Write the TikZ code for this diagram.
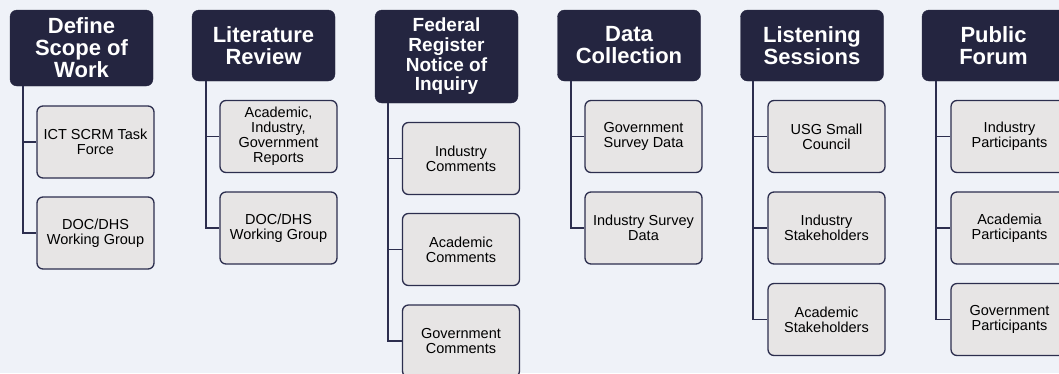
\documentclass[tikz,border=0pt]{standalone}
\usepackage{fontspec}
\setmainfont{Liberation Sans}
\usetikzlibrary{calc}
\definecolor{bgc}{RGB}{239,242,248}
\definecolor{navy}{RGB}{36,37,64}
\definecolor{childfill}{RGB}{231,229,229}
\definecolor{edgec}{RGB}{44,46,78}
\begin{document}
\begin{tikzpicture}[x=1pt,y=-1pt,
  head/.style={fill=navy, draw=navy, rounded corners=7pt, text=white, align=center,
    font=\bfseries\fontsize{22}{22}\selectfont, minimum width=143pt, inner sep=0pt},
  headsmall/.style={head, font=\bfseries\fontsize{19}{19.7}\selectfont},
  child/.style={fill=childfill, draw=edgec, line width=1.3pt, rounded corners=6pt, align=center,
    font=\fontsize{14.5}{15}\selectfont, minimum width=117pt, minimum height=72pt, inner sep=0pt},
  conn/.style={draw=edgec, line width=1.7pt}]
\useasboundingbox (0,0) rectangle (1059,373);
\clip (0,0) rectangle (1059,373);
\fill[bgc] (0,0) rectangle (1059,373);

% Column 1
\node[head, minimum height=76pt] (h1) at (81.5,48) {Define\\Scope of\\Work};
\node[child] (c11) at (95.5,142) {ICT SCRM Task\\Force};
\node[child] (c12) at (95.5,233) {DOC/DHS\\Working Group};
\coordinate (v1) at ($(h1.south west)+(13,0)$);
\draw[conn] (v1) |- (c11.west);
\draw[conn] (v1) |- (c12.west);

% Column 2
\node[head, minimum height=71pt] (h2) at (263.5,45.5) {Literature\\Review};
\node[child] (c21) at (278.5,136.5) {Academic,\\Industry,\\Government\\Reports};
\node[child] (c22) at (278.5,228) {DOC/DHS\\Working Group};
\coordinate (v2) at ($(h2.south west)+(14,0)$);
\draw[conn] (v2) |- (c21.west);
\draw[conn] (v2) |- (c22.west);

% Column 3
\node[headsmall, minimum height=93pt] (h3) at (446.5,56.5) {Federal\\Register\\Notice of\\Inquiry};
\node[child] (c31) at (461,158.5) {Industry\\Comments};
\node[child] (c32) at (461,249.5) {Academic\\Comments};
\node[child] (c33) at (461,341) {Government\\Comments};
\coordinate (v3) at ($(h3.south west)+(13,0)$);
\draw[conn] (v3) |- (c31.west);
\draw[conn] (v3) |- (c32.west);
\draw[conn] (v3) |- (c33.west);

% Column 4
\node[head, minimum height=71pt] (h4) at (629,45.5) {Data\\Collection};
\node[child] (c41) at (643.5,136.5) {Government\\Survey Data};
\node[child] (c42) at (643.5,228) {Industry Survey\\Data};
\coordinate (v4) at ($(h4.south west)+(14,0)$);
\draw[conn] (v4) |- (c41.west);
\draw[conn] (v4) |- (c42.west);

% Column 5
\node[head, minimum height=71pt] (h5) at (812,45.5) {Listening\\Sessions};
\node[child] (c51) at (826.5,136.5) {USG Small\\Council};
\node[child] (c52) at (826.5,228) {Industry\\Stakeholders};
\node[child] (c53) at (826.5,319.5) {Academic\\Stakeholders};
\coordinate (v5) at ($(h5.south west)+(13,0)$);
\draw[conn] (v5) |- (c51.west);
\draw[conn] (v5) |- (c52.west);
\draw[conn] (v5) |- (c53.west);

% Column 6
\node[head, minimum height=71pt] (h6) at (993.5,45.5) {Public\\Forum};
\node[child] (c61) at (1009.5,136.5) {Industry\\Participants};
\node[child] (c62) at (1009.5,228) {Academia\\Participants};
\node[child] (c63) at (1009.5,319.5) {Government\\Participants};
\coordinate (v6) at ($(h6.south west)+(14,0)$);
\draw[conn] (v6) |- (c61.west);
\draw[conn] (v6) |- (c62.west);
\draw[conn] (v6) |- (c63.west);
\end{tikzpicture}
\end{document}
